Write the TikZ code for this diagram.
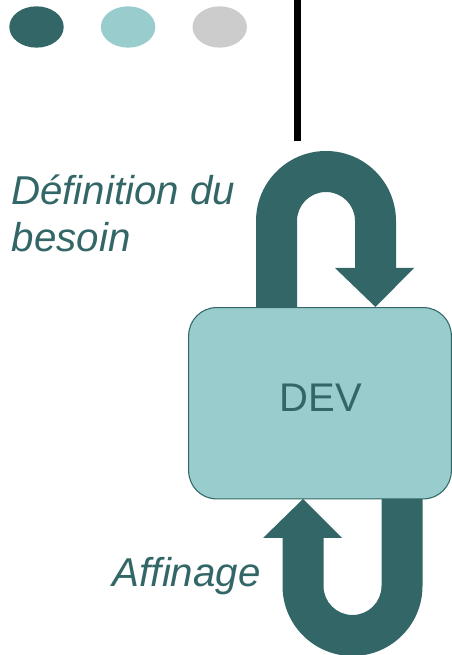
\documentclass[tikz,border=0pt]{standalone}
\usepackage{fontspec}
\setmainfont{Liberation Sans}
\usetikzlibrary{shapes.geometric}
\definecolor{darkteal}{HTML}{336666}
\definecolor{paleteal}{HTML}{99CCCC}
\definecolor{softgrey}{HTML}{CCCCCC}

\begin{document}
\begin{tikzpicture}[x=0.75pt,y=0.75pt]
\tikzstyle{dot} = [shape=ellipse,inner sep=0pt,minimum width=40.8pt,minimum height=31pt,node distance=68.7pt]
\tikzstyle{loop} = [fill=darkteal]
\tikzstyle{devbox} = [draw=darkteal,line width=0.8pt,fill=paleteal,rounded corners=21pt,minimum width=197pt,minimum height=143.5pt,inner sep=0pt]
\tikzstyle{caption} = [anchor=base west,inner sep=0pt,text=darkteal,font=\fontsize{30.2}{36}\selectfont\itshape]

\pgfdeclarelayer{background}
\pgfsetlayers{background,main}

\useasboundingbox (0,0) rectangle (452,655);

\node[dot,fill=darkteal] (c1) at (36.5,628) {};
\node[dot,right of=c1,fill=paleteal] (c2) {};
\node[dot,right of=c2,fill=softgrey] (c3) {};

\coordinate (bartop) at (297.5,655);
\coordinate (barbot) at (297.5,513.5);
\draw[line width=5.25pt] (bartop) -- (barbot);

\node[devbox] (dev) at (320,251.75) {};
\node[text=darkteal,font=\fontsize{30}{36}\selectfont] (devtext) at (321,257) {DEV};

\node[caption] (need1) at (11,450) {Définition du};
\node[caption] (need2) at (11.5,403) {besoin};
\node[caption] (refine) at (112.5,68) {Affinage};

\begin{pgfonlayer}{background}
\fill[loop] (256,348) -- (256,434) arc (180:0:70) -- (396,387) -- (414,387) -- (375.5,348)
  -- (335,387) -- (355,387) -- (355,434) arc (0:180:29) -- (297,348) -- cycle;
\fill[loop] (422.5,160) -- (422.5,69) arc (0:-180:70) -- (282.5,117) -- (263,117) -- (303,156)
  -- (342,117) -- (323.5,117) -- (323.5,69) arc (180:360:29) -- (381.5,160) -- cycle;
\end{pgfonlayer}
\end{tikzpicture}
\end{document}
